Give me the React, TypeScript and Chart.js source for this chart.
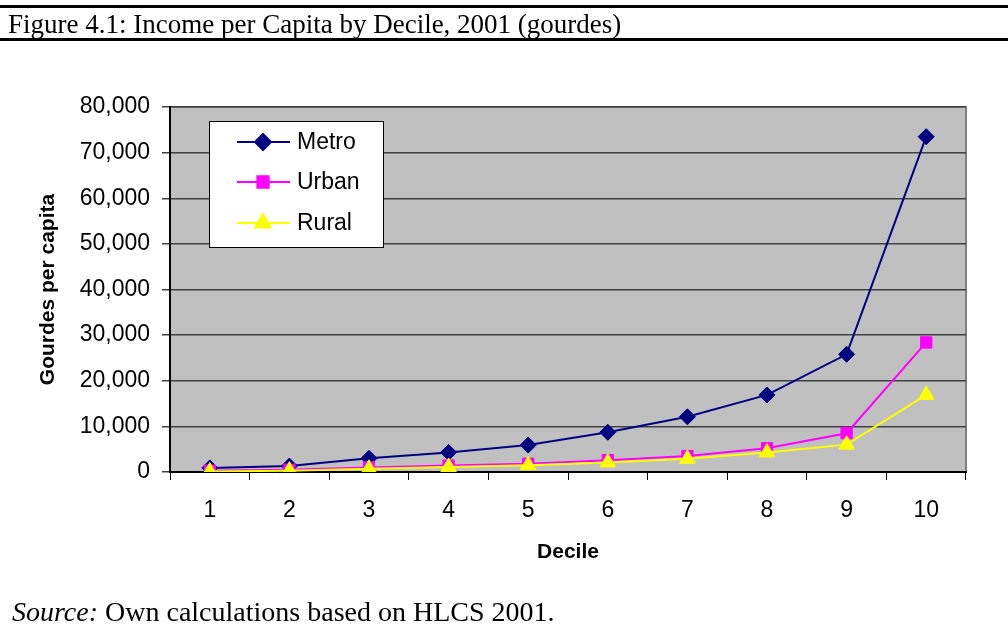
import React, { useEffect, useRef } from "react";
import { Chart, registerables } from "chart.js";
import { drawPoint } from "chart.js/helpers";

Chart.register(...registerables);

const deciles = ["1", "2", "3", "4", "5", "6", "7", "8", "9", "10"];
const metro = [900, 1300, 3000, 4300, 5900, 8700, 12100, 16900, 25800, 73500];
const urban = [300, 500, 1000, 1400, 1800, 2600, 3500, 5200, 8500, 28400];
const rural = [100, 300, 700, 1100, 1500, 2100, 2900, 4300, 6000, 16900];
const yTicks = [0, 10000, 20000, 30000, 40000, 50000, 60000, 70000, 80000];

const titleText = "Figure 4.1: Income per Capita by Decile, 2001 (gourdes)";
const yTitle = "Gourdes per capita";
const xTitle = "Decile";

const SANS = "'Liberation Sans', Arial, sans-serif";
const SERIF = "'Liberation Serif', 'Times New Roman', serif";

const plotBg = {
  id: "plotBg",
  beforeDraw(chart: any) {
    const { ctx, chartArea: a } = chart;
    ctx.save();
    ctx.fillStyle = "#C0C0C0";
    ctx.fillRect(a.left, a.top, a.right - a.left, a.bottom - a.top);
    ctx.strokeStyle = "#808080";
    ctx.lineWidth = 2;
    ctx.strokeRect(a.left, a.top, a.right - a.left, a.bottom - a.top);
    ctx.restore();
  },
};

const boxLegend = {
  id: "boxLegend",
  afterDraw(chart: any) {
    const { ctx } = chart;
    const x0 = 209, y0 = 121, w = 174, h = 126;
    ctx.save();
    ctx.fillStyle = "#FFFFFF";
    ctx.fillRect(x0, y0, w, h);
    ctx.strokeStyle = "#000000";
    ctx.lineWidth = 1;
    ctx.strokeRect(x0 + 0.5, y0 + 0.5, w, h);
    const rows = [142, 182, 223];
    chart.data.datasets.forEach((ds: any, i: number) => {
      const y = rows[i];
      ctx.strokeStyle = ds.borderColor;
      ctx.lineWidth = ds.borderWidth;
      ctx.beginPath();
      ctx.moveTo(237, y);
      ctx.lineTo(290, y);
      ctx.stroke();
      ctx.fillStyle = ds.pointBackgroundColor;
      ctx.strokeStyle = ds.pointBorderColor;
      drawPoint(ctx, { pointStyle: ds.pointStyle, radius: ds.pointRadius, borderWidth: 1, rotation: 0 }, 263, y);
      ctx.fillStyle = "#000";
      ctx.font = `23px ${SANS}`;
      ctx.textBaseline = "middle";
      ctx.textAlign = "left";
      ctx.fillText(ds.label, 297, y + 1);
    });
    ctx.restore();
  },
};

export default function App() {
  const ref = useRef<HTMLCanvasElement>(null);
  useEffect(() => {
    if (!ref.current) return;
    const chart = new Chart(ref.current, {
      type: "line",
      data: {
        labels: deciles,
        datasets: [
          {
            label: "Metro",
            data: metro,
            borderColor: "#000080",
            backgroundColor: "#000080",
            pointBackgroundColor: "#000080",
            pointBorderColor: "#000080",
            borderWidth: 2,
            pointStyle: "rectRot",
            pointRadius: 8,
            pointBorderWidth: 1,
            order: 3,
          },
          {
            label: "Urban",
            data: urban,
            borderColor: "#FF00FF",
            backgroundColor: "#FF00FF",
            pointBackgroundColor: "#FF00FF",
            pointBorderColor: "#FF00FF",
            borderWidth: 2,
            pointStyle: "rect",
            pointRadius: 8,
            pointBorderWidth: 1,
            order: 2,
          },
          {
            label: "Rural",
            data: rural,
            borderColor: "#FFFF00",
            backgroundColor: "#FFFF00",
            pointBackgroundColor: "#FFFF00",
            pointBorderColor: "#FFFF00",
            borderWidth: 2,
            pointStyle: "triangle",
            pointRadius: 9,
            pointBorderWidth: 1,
            order: 1,
          },
        ] as any,
      },
      options: {
        responsive: false,
        animation: false,
        devicePixelRatio: 1,
        layout: { padding: { left: 0, top: 107, right: 42, bottom: 0 } },
        plugins: {
          legend: { display: false },
          tooltip: { enabled: false },
          title: { display: false },
        },
        elements: { line: { tension: 0 } },
        scales: {
          x: {
            type: "category",
            offset: true,
            afterFit: (s: any) => {
              s.height = 154;
            },
            grid: {
              offset: true,
              drawOnChartArea: false,
              drawTicks: true,
              tickLength: 8,
              color: "#000",
              lineWidth: 1,
            },
            border: { display: true, color: "#000", width: 2 },
            ticks: {
              color: "#000",
              font: { family: SANS, size: 23 },
              padding: 17,
              maxRotation: 0,
            },
            title: {
              display: true,
              text: xTitle,
              color: "#000",
              font: { family: SANS, size: 21, weight: "bold" },
              padding: { top: 0, bottom: 61 },
            },
          },
          y: {
            min: 0,
            max: 80000,
            afterFit: (s: any) => {
              s.width = 170;
            },
            afterBuildTicks: (s: any) => {
              s.ticks = yTicks.map((v) => ({ value: v }));
            },
            grid: {
              color: "#404040",
              lineWidth: 1.5,
              drawTicks: true,
              tickLength: 8,
            },
            border: { display: true, color: "#000", width: 2 },
            ticks: {
              color: "#000",
              font: { family: SANS, size: 23 },
              padding: 12,
              callback: (v: any) => Number(v).toLocaleString("en-US"),
            },
            title: {
              display: true,
              text: yTitle,
              color: "#000",
              font: { family: SANS, size: 21, weight: "bold" },
              padding: { top: 36, bottom: 0 },
            },
          },
        },
      },
      plugins: [plotBg, boxLegend],
    });
    return () => chart.destroy();
  }, []);

  return (
    <div style={{ position: "absolute", left: 0, top: 0, width: 1008, height: 626, background: "#fff", overflow: "hidden" }}>
      <canvas ref={ref} width={1008} height={626} style={{ position: "absolute", left: 0, top: 0 }} />
      <div style={{ position: "absolute", left: 0, top: 5, width: 1008, height: 3, background: "#000" }} />
      <div
        style={{
          position: "absolute",
          left: 8,
          top: 9,
          height: 30,
          lineHeight: "30px",
          fontFamily: SERIF,
          fontSize: 27,
          color: "#000",
          whiteSpace: "nowrap",
        }}
      >
        {titleText}
      </div>
      <div style={{ position: "absolute", left: 0, top: 38, width: 1008, height: 3, background: "#000" }} />
      <div
        style={{
          position: "absolute",
          left: 12,
          top: 596,
          lineHeight: "32px",
          fontFamily: SERIF,
          fontSize: 28,
          color: "#000",
          whiteSpace: "nowrap",
        }}
      >
        <i>Source:</i> Own calculations based on HLCS 2001.
      </div>
    </div>
  );
}
